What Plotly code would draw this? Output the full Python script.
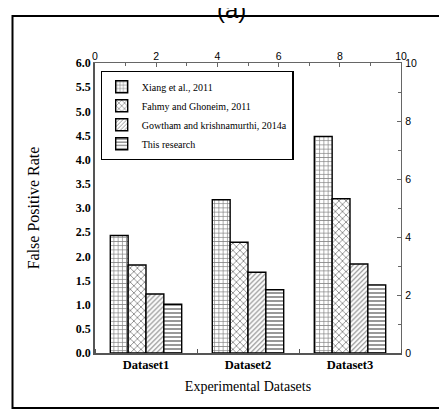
import plotly.graph_objects as go

datasets = ["Dataset1", "Dataset2", "Dataset3"]
series_names = ["Xiang et al., 2011", "Fahmy and Ghoneim, 2011",
                "Gowtham and krishnamurthi, 2014a", "This research"]
xiang = [2.43, 3.17, 4.48]
fahmy = [1.82, 2.29, 3.19]
gowtham = [1.22, 1.67, 1.84]
this_research = [1.01, 1.31, 1.41]
y_ticks = [0.0, 0.5, 1.0, 1.5, 2.0, 2.5, 3.0, 3.5, 4.0, 4.5, 5.0, 5.5, 6.0]
sec_ticks = [0, 2, 4, 6, 8, 10]

values = [xiang, fahmy, gowtham, this_research]
patterns = [dict(shape="+", size=4.2, solidity=0.3, fgcolor="black", bgcolor="white"),
            dict(shape="x", size=5, solidity=0.3, fgcolor="black", bgcolor="white"),
            dict(shape="/", size=3.5, solidity=0.3, fgcolor="black", bgcolor="white"),
            dict(shape="-", size=4, solidity=0.4, fgcolor="black", bgcolor="white")]

xpos = [1, 2, 3]
fig = go.Figure()
for name, vals, pat in zip(series_names, values, patterns):
    fig.add_trace(go.Bar(x=xpos, y=vals, name=name,
                         marker=dict(color="white", pattern=pat,
                                     line=dict(color="black", width=1.4))))

fig.add_trace(go.Scatter(x=[0], y=[0], xaxis="x2", yaxis="y2", mode="markers",
                         marker=dict(opacity=0), showlegend=False, hoverinfo="skip"))

serif = "Liberation Serif, Times New Roman, serif"
narrow = "Liberation Sans Narrow, Liberation Sans, Arial"

fig.update_layout(
    width=447, height=414,
    margin=dict(l=87, r=54, t=55, b=69),
    paper_bgcolor="white", plot_bgcolor="white",
    barmode="group", bargap=0.3, bargroupgap=0,
    showlegend=True,
    legend=dict(x=0.018, y=0.972, xanchor="left", yanchor="top",
                bordercolor="black", borderwidth=1.2, bgcolor="white",
                font=dict(family=serif, size=10, color="black"),
                itemwidth=30, tracegroupgap=0),
    xaxis=dict(range=[0.5, 3.5], tickvals=xpos, ticktext=datasets,
               tickfont=dict(family=serif, size=12.5, color="black", weight="bold"),
               showline=True, linecolor="#555", linewidth=1.5, ticks="",
               minor=dict(tick0=0.5, dtick=1, ticks="inside", ticklen=4, tickcolor="#555"),
               showgrid=False, zeroline=False, ticklabelstandoff=-1,
               title=dict(text="Experimental Datasets", standoff=10,
                          font=dict(family=serif, size=14, color="black"))),
    yaxis=dict(range=[0, 6], tickvals=y_ticks, ticktext=[f"{v:.1f}" for v in y_ticks],
               tickfont=dict(family=serif, size=12, color="black", weight="bold"),
               showline=True, linecolor="#555", linewidth=1.5, ticks="",
               showgrid=False, zeroline=False,
               title=dict(text="False Positive Rate", standoff=32,
                          font=dict(family=serif, size=16, color="black"))),
    xaxis2=dict(overlaying="x", side="top", anchor="y", range=[0, 10],
                tickvals=sec_ticks, ticks="inside", ticklen=4, tickcolor="#666",
                minor=dict(dtick=1, ticks="inside", ticklen=3, tickcolor="#666"),
                showline=True, linecolor="#666", linewidth=1.2,
                tickfont=dict(family=narrow, size=10.5, color="black"),
                ticklabelstandoff=-2,
                showgrid=False, zeroline=False),
    yaxis2=dict(overlaying="y", side="right", anchor="x", range=[0, 10],
                tickvals=sec_ticks, ticks="inside", ticklen=4, tickcolor="#666",
                minor=dict(dtick=1, ticks="inside", ticklen=3, tickcolor="#666"),
                showline=True, linecolor="#666", linewidth=1.2,
                tickfont=dict(family=narrow, size=10.5, color="black"),
                ticklabelstandoff=1,
                showgrid=False, zeroline=False),
)

# outer frame
fig.add_shape(type="rect", xref="paper", yref="paper",
              x0=(5 - 87.5) / 306, x1=(444 - 87.5) / 306,
              y0=(345 - 400) / 290, y1=(345 - 8) / 290,
              line=dict(color="black", width=2), layer="below")

fig.add_annotation(text="(a)", xref="paper", yref="paper",
                   x=(224 - 87.5) / 306, y=(345 - 1) / 290,
                   xanchor="center", yanchor="middle", showarrow=False,
                   font=dict(family="Liberation Sans", size=24, color="black"))

fig.write_html("out.html")
